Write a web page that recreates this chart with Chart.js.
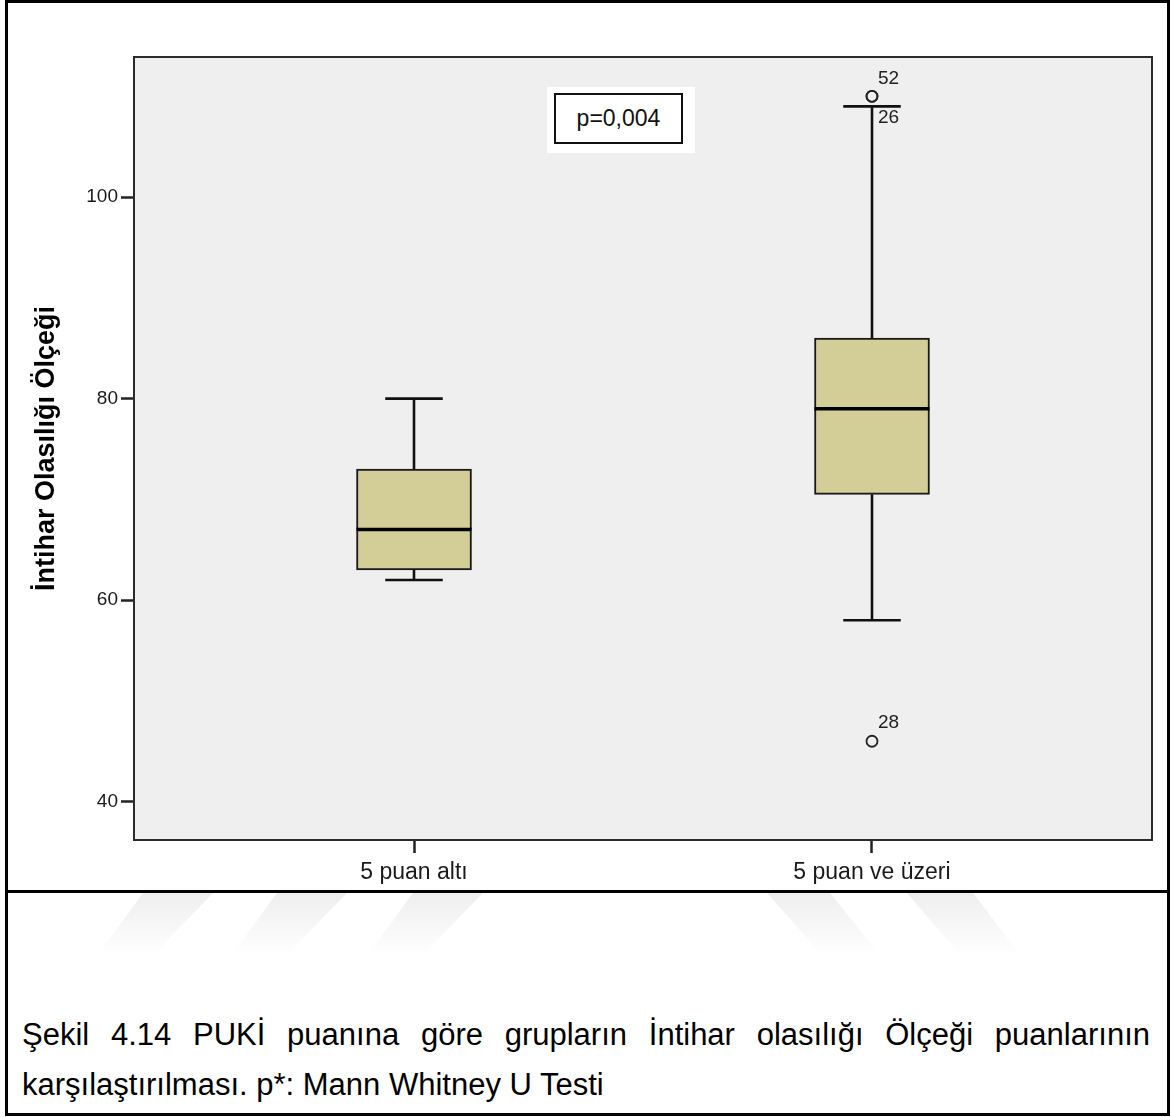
<!DOCTYPE html>
<html lang="tr">
<head>
<meta charset="utf-8">
<title>İntihar Olasılığı Ölçeği</title>
<script src="https://cdn.jsdelivr.net/npm/chart.js@4.4.1/dist/chart.umd.min.js"></script>
<style>
    html, body { margin: 0; padding: 0; background: #fff; }
    .page { position: relative; width: 1172px; height: 1117px; overflow: hidden; font-family: "Liberation Sans", Arial, sans-serif; }
    #boxChart { position: absolute; left: 0; top: 0; }
    .frame { position: absolute; left: 5px; top: 0; width: 1159px; height: 1110px; border: 3px solid #000; pointer-events: none; }
    .divider { position: absolute; left: 5px; top: 890px; width: 1165px; height: 3px; background: #000; }
    .watermark { position: absolute; left: 0; top: 893px; }
    .p-note { position: absolute; left: 547px; top: 87px; width: 148px; height: 66px; background: #fff; }
    .p-note span {
        position: absolute; left: 7px; top: 6px; width: 125px; height: 47px;
        border: 2px solid #111; font-size: 23px; line-height: 47px; text-align: center; color: #111;
    }
    .caption {
        position: absolute; left: 22px; top: 1010px; width: 1128px;
        font-size: 31px; line-height: 50px; text-align: justify; color: #000;
    }
</style>
</head>
<body>
<div class="page">
    <canvas id="boxChart" width="1172" height="890"></canvas>
    <svg class="watermark" width="1172" height="70">
        <defs>
            <linearGradient id="fade" x1="0" y1="0" x2="0" y2="1">
                <stop offset="0" stop-color="#eeeeee"/>
                <stop offset="1" stop-color="#ffffff"/>
            </linearGradient>
        </defs>
        <g fill="url(#fade)">
            <polygon points="98,62 153,62 213,0 143,0"/>
            <polygon points="232,62 287,62 347,0 277,0"/>
            <polygon points="368,62 423,62 483,0 413,0"/>
            <polygon points="767,0 830,0 880,62 822,62"/>
            <polygon points="907,0 973,0 1020,62 960,62"/>
        </g>
    </svg>
    <div class="p-note"><span>p=0,004</span></div>
    <div class="divider"></div>
    <div class="caption">Şekil 4.14 PUKİ puanına göre grupların İntihar olasılığı Ölçeği puanlarının karşılaştırılması. p*: Mann Whitney U Testi</div>
    <div class="frame"></div>
</div>
<script>
const groups = ["5 puan altı", "5 puan ve üzeri"];
const groupPos = [1, 2];
const lowerWhisker = [62, 58];
const lowerQuartile = [63, 70.5];
const medians = [67, 79];
const upperQuartile = [73, 86];
const upperWhisker = [80, 109];

// outliers: group index, value, case number
const outlierGroup = [1, 1, 1];
const outlierValues = [110, 110, 46];
const outlierCases = ["52", "26", "28"];

const yTicks = [40, 60, 80, 100];

const fontFamily = "'Liberation Sans', Arial, sans-serif";
const boxWidth = 115;

const plotFrame = {
    id: "plotFrame",
    beforeDraw(chart) {
        const { ctx, chartArea: a } = chart;
        ctx.save();
        ctx.fillStyle = "#efefef";
        ctx.fillRect(a.left, a.top, a.width, a.height);
        ctx.restore();
    },
    afterDraw(chart) {
        const { ctx, chartArea: a } = chart;
        ctx.save();
        ctx.strokeStyle = "#2b2b2b";
        ctx.lineWidth = 2;
        ctx.strokeRect(a.left, a.top, a.width, a.height);
        ctx.restore();
    }
};

const boxWhiskers = {
    id: "boxWhiskers",
    beforeDatasetsDraw(chart) {
        const { ctx, scales: { x, y } } = chart;
        const capHalf = boxWidth / 4;
        ctx.save();
        ctx.strokeStyle = "#111";
        ctx.lineWidth = 2.6;
        groupPos.forEach((g, i) => {
            const cx = Math.round(x.getPixelForValue(g));
            [[lowerQuartile[i], lowerWhisker[i]], [upperQuartile[i], upperWhisker[i]]].forEach(([from, to]) => {
                const yTo = y.getPixelForValue(to);
                ctx.beginPath();
                ctx.moveTo(cx, y.getPixelForValue(from));
                ctx.lineTo(cx, yTo);
                ctx.moveTo(cx - capHalf, yTo);
                ctx.lineTo(cx + capHalf, yTo);
                ctx.stroke();
            });
        });
        ctx.restore();
    },
    afterDatasetsDraw(chart) {
        const { ctx, scales: { x, y } } = chart;
        ctx.save();
        ctx.strokeStyle = "#000";
        ctx.lineWidth = 3.5;
        groupPos.forEach((g, i) => {
            const cx = x.getPixelForValue(g);
            const my = y.getPixelForValue(medians[i]);
            ctx.beginPath();
            ctx.moveTo(cx - boxWidth / 2, my);
            ctx.lineTo(cx + boxWidth / 2, my);
            ctx.stroke();
        });

        // case labels; repeated values get their labels stacked
        ctx.fillStyle = "#222";
        ctx.font = "19px " + fontFamily;
        ctx.textAlign = "left";
        ctx.textBaseline = "middle";
        const seen = {};
        outlierValues.forEach((v, i) => {
            const key = outlierGroup[i] + ":" + v;
            const n = seen[key] || 0;
            seen[key] = n + 1;
            const px = x.getPixelForValue(groupPos[outlierGroup[i]]);
            const py = y.getPixelForValue(v);
            ctx.fillText(outlierCases[i], px + 6, n === 0 ? py - 18 : py + 21);
        });
        ctx.restore();
    }
};

new Chart(document.getElementById("boxChart"), {
    type: "bar",
    data: {
        datasets: [{
            type: "bar",
            data: groupPos.map((g, i) => ({ x: g, y: [lowerQuartile[i], upperQuartile[i]] })),
            backgroundColor: "#d3ce97",
            borderColor: "#1a1a1a",
            borderWidth: 2,
            borderSkipped: false,
            barThickness: boxWidth
        }, {
            type: "scatter",
            data: outlierValues.map((v, i) => ({ x: groupPos[outlierGroup[i]], y: v })),
            pointStyle: "circle",
            pointRadius: 5.5,
            pointBorderWidth: 1.8,
            borderColor: "#222",
            backgroundColor: "rgba(0,0,0,0)"
        }]
    },
    options: {
        responsive: false,
        animation: false,
        layout: { padding: { top: 57, right: 20, left: 0, bottom: 0 } },
        plugins: {
            legend: { display: false },
            tooltip: { enabled: false }
        },
        scales: {
            x: {
                type: "linear",
                min: 0.3886,
                max: 2.6114,
                offset: false,
                afterBuildTicks: (s) => { s.ticks = groupPos.map(v => ({ value: v })); },
                afterFit: (s) => { s.height = 50; },
                ticks: {
                    autoSkip: false,
                    maxRotation: 0,
                    padding: 6,
                    color: "#1a1a1a",
                    font: { family: fontFamily, size: 23 },
                    callback: (v) => groups[groupPos.indexOf(v)]
                },
                grid: { offset: false, drawOnChartArea: false, tickLength: 13, tickWidth: 2.5, tickColor: "#222" },
                border: { display: false }
            },
            y: {
                type: "linear",
                min: 36.2,
                max: 113.9,
                afterBuildTicks: (s) => { s.ticks = yTicks.map(v => ({ value: v })); },
                afterFit: (s) => { s.width = 134; },
                ticks: {
                    padding: 3,
                    color: "#1a1a1a",
                    font: { family: fontFamily, size: 19 },
                    callback: (v) => String(v)
                },
                grid: { drawOnChartArea: false, tickLength: 13, tickWidth: 2.5, tickColor: "#222" },
                border: { display: false },
                title: {
                    display: true,
                    text: "İntihar Olasılığı Ölçeği",
                    color: "#000",
                    font: { family: fontFamily, size: 27, weight: "bold" },
                    padding: { top: 30, bottom: 0 }
                }
            }
        }
    },
    plugins: [plotFrame, boxWhiskers]
});
</script>
</body>
</html>
